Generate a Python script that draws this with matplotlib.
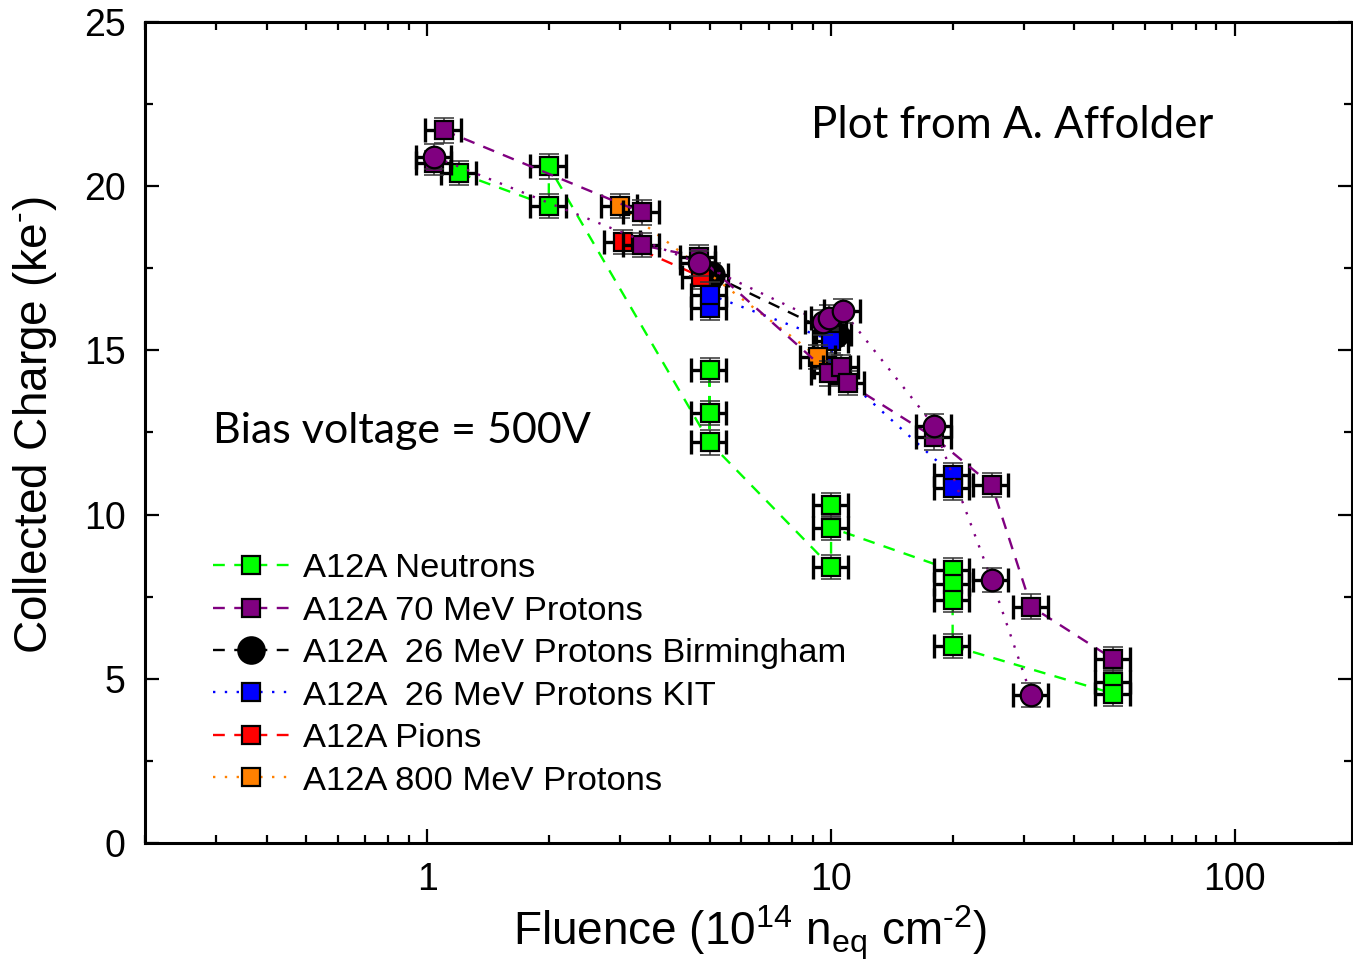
import matplotlib
matplotlib.use("Agg")
import matplotlib.pyplot as plt
from matplotlib.lines import Line2D
import numpy as np

plt.rcParams['font.family'] = ['Liberation Sans', 'DejaVu Sans']
plt.rcParams['mathtext.fontset'] = 'custom'
plt.rcParams['mathtext.rm'] = 'Liberation Sans'
plt.rcParams['mathtext.it'] = 'Liberation Sans:italic'

# ---------------- data ----------------
# A12A Neutrons
neu_x = [1.2, 2, 2, 5, 5, 5, 10, 10, 10, 20, 20, 20, 20, 50, 50]
neu_y = [20.4, 20.6, 19.4, 14.4, 13.1, 12.2, 10.3, 9.6, 8.4, 8.3, 7.9, 7.4, 6.0, 4.9, 4.55]
neu_path = [0, 2, 1, 5, 3, 4, 5, 8, 6, 7, 9, 10, 11, 12, 14, 13]

# A12A 70 MeV Protons (squares)
p70_x = [1.04, 1.1, 3.4, 3.4, 4.7, 9.9, 10.6, 11.0, 18, 25, 31.3, 50]
p70_y = [20.7, 21.7, 19.2, 18.2, 17.85, 14.3, 14.5, 14.0, 12.35, 10.9, 7.2, 5.6]
p70_path = [1, 2, 3, 4, 5, 6, 7, 8, 9, 10, 11]

# purple circles (second 70 MeV set, not in legend)
p70c_x = [1.04, 4.7, 9.55, 9.9, 10.7, 18, 25, 31.3]
p70c_y = [20.9, 17.65, 15.85, 16.0, 16.2, 12.7, 8.0, 4.5]

# A12A 26 MeV Protons Birmingham
bir_x = [5.05, 10.2]
bir_y = [17.3, 15.5]

# A12A 26 MeV Protons KIT
kit_x = [5, 5, 10, 10.1, 20, 20]
kit_y = [16.3, 16.7, 15.3, 14.5, 11.2, 10.8]

# A12A Pions
pio_x = [3.05, 4.75]
pio_y = [18.3, 17.25]

# A12A 800 MeV Protons
p800_x = [3.0, 9.3]
p800_y = [19.4, 14.8]

Y_ERR = 0.37      # ke- vertical error
X_REL_ERR = 0.10  # relative fluence error

labels = ["A12A Neutrons", "A12A 70 MeV Protons", "A12A  26 MeV Protons Birmingham",
          "A12A  26 MeV Protons KIT", "A12A Pions", "A12A 800 MeV Protons"]

# ---------------- figure ----------------
W, H = 1353, 973
fig = plt.figure(figsize=(W / 100, H / 100), dpi=100)
L, R, T, B = 145, 1352, 22, 843
ax = fig.add_axes([L / W, 1 - B / H, (R - L) / W, (B - T) / H])

ax.set_xscale('log')
ax.set_xlim(0.2, 195)
ax.set_ylim(0, 25)

MS_SQ = 13
MS_C = 15.5
MS_BIG = 19


def series(x, y, color, ls, marker, ms, z, path=None):
    x = np.asarray(x, float)
    y = np.asarray(y, float)
    if path is None:
        path = list(range(len(x)))
    ax.plot(x[path], y[path], ls=ls, color=color, lw=1.7, zorder=z)
    ax.errorbar(x, y, yerr=Y_ERR, fmt='none', ecolor='#333333', elinewidth=1.1,
                capsize=7, capthick=1.1, zorder=z + 0.01)
    ax.errorbar(x, y, xerr=X_REL_ERR * x, fmt='none', ecolor='black', elinewidth=2.4,
                capsize=8.5, capthick=2.4, zorder=z + 0.02)
    ax.plot(x, y, ls='none', marker=marker, ms=ms, mfc=color, mec='black', mew=1.6,
            zorder=z + 0.03)


GREEN = '#00FF00'
PURPLE = '#800080'
BLUE = '#0000FF'
RED = '#FF0000'
ORANGE = '#FF8000'

series(neu_x, neu_y, GREEN, (0, (5, 4)), 's', MS_SQ, 3.0, neu_path)
series(bir_x, bir_y, 'black', (0, (5, 4)), 'o', MS_BIG, 3.1)
series(pio_x, pio_y, RED, (0, (5, 4)), 's', MS_SQ, 3.2)
series(kit_x, kit_y, BLUE, (0, (1, 4)), 's', MS_SQ, 3.3)
series(p800_x, p800_y, ORANGE, (0, (1, 4)), 's', MS_SQ, 3.4)
series(p70_x, p70_y, PURPLE, (0, (5, 4)), 's', MS_SQ, 3.5, p70_path)
series(p70c_x, p70c_y, PURPLE, (0, (1, 4)), 'o', MS_C, 3.6)

# ---------------- axes styling ----------------
for s in ax.spines.values():
    s.set_linewidth(2.2)
ax.tick_params(which='both', direction='in', top=True, right=True, width=1.6)
ax.tick_params(which='major', length=10, labelsize=27)
ax.tick_params(which='minor', length=6)
ax.tick_params(axis='y', which='major', pad=14)
ax.tick_params(axis='x', which='major', pad=14)
ax.set_yticks([0, 5, 10, 15, 20, 25])
ax.set_yticks(np.arange(2.5, 25, 5), minor=True)
ax.set_xticks([1, 10, 100])
ax.set_xticklabels(['1', '10', '100'])
ax.xaxis.set_minor_locator(matplotlib.ticker.LogLocator(base=10, subs=np.arange(2, 10)))
ax.xaxis.set_minor_formatter(matplotlib.ticker.NullFormatter())

fig.text(750 / W, 1 - 933 / H, 'Fluence (10$^{14}$ n$_{\\mathrm{eq}}$ cm$^{\u2010 2}$)',
         fontsize=33, ha='center', va='center')
fig.text(35 / W, 1 - 425 / H, 'Collected Charge (ke$^{\u2010}$)', fontsize=33,
         ha='center', va='center', rotation=90)

fig.text(1012 / W, 1 - 126 / H, 'Plot from A. Affolder', fontsize=31.5,
         family='Lato', ha='center', va='center')
fig.text(213 / W, 1 - 431 / H, 'Bias voltage = 500V', fontsize=31,
         family='Lato', ha='left', va='center')

# ---------------- legend ----------------
def handle(color, ls, marker, ms):
    return Line2D([], [], color=color, ls=ls, lw=1.7, marker=marker, ms=ms,
                  mfc=color, mec='black', mew=1.6)


handles = [
    handle(GREEN, (0, (5, 4)), 's', MS_SQ),
    handle(PURPLE, (0, (5, 4)), 's', MS_SQ),
    handle('black', (0, (5, 4)), 'o', MS_BIG),
    handle(BLUE, (0, (1, 4)), 's', MS_SQ),
    handle(RED, (0, (5, 4)), 's', MS_SQ),
    handle(ORANGE, (0, (1, 4)), 's', MS_SQ),
]
fig.legend(handles, labels, loc='upper left', bbox_to_anchor=(213 / W, 1 - 553 / H),
           frameon=False, fontsize=24.8, handlelength=2.2, handletextpad=0.4,
           labelspacing=0.33, borderpad=0, borderaxespad=0)

fig.savefig('out.png', dpi=100)
